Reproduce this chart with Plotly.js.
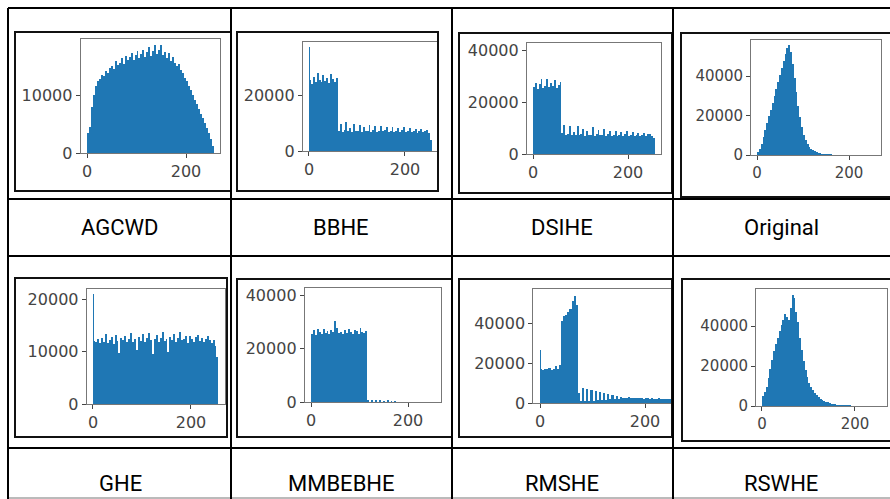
<!DOCTYPE html>
<html><head><meta charset="utf-8">
<script src="https://cdn.plot.ly/plotly-3.0.1.min.js"></script>
<style>html,body{margin:0;padding:0;background:#fff}#chart{width:890px;height:499px}</style>
</head><body><div id="chart"></div>
<script>
// ---------------- data ----------------
const methods = ['AGCWD','BBHE','DSIHE','Original','GHE','MMBEBHE','RMSHE','RSWHE'];
const binStarts = [0,4,8,12,16,20,24,28,32,36,40,44,48,52,56,60,64,68,72,76,80,84,88,92,96,100,104,108,112,116,120,124,128,132,136,140,144,148,152,156,160,164,168,172,176,180,184,188,192,196,200,204,208,212,216,220,224,228,232,236,240,244,248,252];
const agcwd = [3500,4500,8000,10000,11500,12500,12800,13500,13200,14200,13800,14600,15000,14500,15800,15200,15600,16400,15400,16800,16000,16500,17200,16100,16900,17600,16300,17000,17700,16600,17400,18200,16800,17600,18600,17000,17800,18700,16900,17500,16400,17300,15800,16500,15600,15000,15400,14300,13800,13000,12400,11600,10800,10000,9200,8400,7600,6800,6000,5100,4300,3400,2400,1200];
const bbhe = [25500,24000,26500,24800,27800,25200,24600,27000,25000,26200,24400,27500,25600,24800,26000,7200,9800,6900,7400,10400,7000,8200,6800,9600,7100,7300,9200,6900,8600,7200,7000,9400,6800,7600,8800,6900,7100,9000,7000,7400,8400,6800,7200,8700,6900,7300,8200,6800,7500,8600,6700,7100,8300,6900,7200,8000,6600,7000,7900,6800,7300,7600,6500,4000];
const dsihe = [25800,27500,25000,26800,28800,25400,26200,29000,25600,27200,26000,28400,25300,26700,27800,8200,11000,7400,7800,10600,7300,8600,7200,10800,7500,7600,9800,7100,8900,7400,7300,10200,7000,7800,9400,7200,7300,9600,7100,7600,8800,7000,7400,9000,7100,7500,8500,6900,7700,8700,7000,7300,8400,7100,7400,8200,6900,7200,7900,7000,7600,7800,6900,6200];
const original = [1500,3000,5500,9000,12500,16000,19500,23000,26500,30000,33500,37000,40500,44000,47500,51000,54000,55500,52000,46000,39000,32000,25000,19000,14000,10000,7500,5500,4200,3200,2500,2000,1600,1200,900,700,550,450,380,320,270,230,200,180,160,150,140,130,125,120,115,110,105,100,100,95,90,90,85,80,80,75,70,60];
const ghe = [12000,11800,12400,11600,12600,11900,13400,11700,12200,12800,11500,13200,12000,9800,12500,12100,13000,11800,12300,13500,11900,12400,10200,12700,12000,13300,11800,12500,13600,12100,9600,12400,13100,11900,12600,13700,12000,12300,10000,12800,12200,13400,11800,12600,13800,12100,12400,12900,11700,13000,12300,11900,12700,13200,12000,12500,11800,12300,12900,12100,11600,12200,11000,9000];
const mmbebhe = [25500,26800,25200,27400,26000,25600,27200,25800,26600,25300,27000,26200,30200,27600,25700,26000,25400,26900,25800,27300,26100,25600,27100,26400,25500,27500,26300,25900,26700,600,0,700,0,600,0,800,0,500,0,600,0,400,0,300,0,0,0,0,0,0,0,0,0,0,0,0,0,0,0,0,0,0,0,0];
const rmshe = [17000,16500,17200,16800,17400,16600,17000,18500,17200,19000,41000,43500,44000,45500,47000,51000,53500,49000,5000,1200,7500,1000,6800,1100,6500,1200,6000,1300,5500,1500,5000,1600,4500,1800,4000,2000,3500,2200,3000,2400,2600,2500,2800,2400,2600,2500,2300,2600,2400,2200,2500,2300,2100,2400,2200,2000,2300,2100,1900,2200,2000,1800,2000,1700];
const rswhe = [5000,7000,9500,14000,18500,23000,27500,31000,34000,37500,40500,43000,46000,44500,43000,49000,55500,54000,47000,42000,34000,28000,22500,18000,14500,11500,9500,8000,6600,5400,4400,3600,3000,2500,2100,1800,1500,1250,1050,900,750,650,560,480,420,370,320,280,240,210,180,160,140,120,100,90,80,70,60,50,45,40,35,30];
const spikeBin = [0];
const bbheSpike = [37000];
const gheSpike = [20900];
const rmsheSpike = [26500];
const xTickVals = [0, 200];
const yTicksAGCWD = [0, 10000];
const yTicksBBHE = [0, 20000];
const yTicksDSIHE = [0, 20000, 40000];
const yTicksOriginal = [0, 20000, 40000];
const yTicksGHE = [0, 10000, 20000];
const yTicksMMBEBHE = [0, 20000, 40000];
const yTicksRMSHE = [0, 20000, 40000];
const yTicksRSWHE = [0, 20000, 40000];

// ---------------- layout / style ----------------
const W = 890, H = 499, BLUE = '#1f77b4';
const series = [agcwd, bbhe, dsihe, original, ghe, mmbebhe, rmshe, rswhe];
const spikes = [null, bbheSpike, null, null, gheSpike, null, rmsheSpike, null];
const yTicks = [yTicksAGCWD, yTicksBBHE, yTicksDSIHE, yTicksOriginal, yTicksGHE, yTicksMMBEBHE, yTicksRMSHE, yTicksRSWHE];
// pixel geometry of each embedded histogram picture
const geo = [
  {frame:[15,32,231,191], x0:87,  x200:186, y0:153, tp:95,  tv:10000, top:39,  font:16},
  {frame:[237,32,438,191], x0:309, x200:405, y0:151, tp:95,  tv:20000, top:42,  font:16},
  {frame:[459,33,672,193], x0:533, x200:628, y0:154, tp:50,  tv:40000, top:43,  font:16},
  {frame:[681,33,893,197], x0:757, x200:849, y0:155, tp:76,  tv:40000, top:40,  font:15},
  {frame:[15,278,227,437], x0:93,  x200:191, y0:404, tp:299, tv:20000, top:289, font:16},
  {frame:[237,279,452,437], x0:311, x200:408, y0:402, tp:295, tv:40000, top:288, font:16},
  {frame:[459,279,672,437], x0:540, x200:645, y0:403, tp:323, tv:40000, top:289, font:16, clipR:671},
  {frame:[682,279,893,441], x0:762, x200:855, y0:406, tp:326, tv:40000, top:289, font:15}
];
const colCenters = [120, 341, 562, 781];
const labelY = [227, 483];

const traces = [];
const layout = {
  width: W, height: H, margin: {l:0, r:0, t:0, b:0},
  paper_bgcolor: '#fff', plot_bgcolor: 'rgba(0,0,0,0)',
  showlegend: false, barmode: 'overlay', bargap: 0,
  shapes: [], annotations: []
};

geo.forEach((g, i) => {
  const n = i + 1, sfx = n === 1 ? '' : String(n);
  const k = (g.x200 - g.x0) / 200;
  const left = g.x0 - 12.8 * k;
  let right = g.x0 + 268.8 * k;
  if (g.clipR) right = Math.min(right, g.clipR);
  const py = (g.y0 - g.tp) / g.tv;
  const ymax = (g.y0 - g.top) / py;
  traces.push({type:'bar', x:binStarts, y:series[i], width:4, offset:0,
    marker:{color:BLUE, line:{width:0}}, xaxis:'x'+sfx, yaxis:'y'+sfx, hoverinfo:'skip', cliponaxis:true});
  if (spikes[i]) traces.push({type:'bar', x:spikeBin, y:spikes[i], width:2, offset:0,
    marker:{color:BLUE, line:{width:0}}, xaxis:'x'+sfx, yaxis:'y'+sfx, hoverinfo:'skip'});
  const common = {showline:true, linecolor:'#777', linewidth:1, mirror:true, ticks:'outside',
    ticklen:4, tickwidth:1, tickcolor:'#444', showgrid:false, zeroline:false, fixedrange:true,
    tickfont:{family:'DejaVu Sans', size:g.font, color:'#444'}};
  layout['xaxis'+sfx] = Object.assign({}, common, {
    domain:[left/W, right/W], range:[(left-g.x0)/k, (right-g.x0)/k], anchor:'y'+sfx,
    tickmode:'array', tickvals:xTickVals, ticktext:xTickVals.map(String)});
  layout['yaxis'+sfx] = Object.assign({}, common, {
    domain:[1-g.y0/H, 1-g.top/H], range:[0, ymax], anchor:'x'+sfx,
    tickmode:'array', tickvals:yTicks[i], ticktext:yTicks[i].map(String)});
  const f = g.frame;
  layout.shapes.push({type:'rect', xref:'paper', yref:'paper', x0:f[0]/W, x1:f[2]/W, y0:1-f[3]/H, y1:1-f[1]/H,
    line:{color:'#111', width:2}, fillcolor:'rgba(0,0,0,0)', layer:'above'});
});

// table grid lines
const hLines = [8, 199, 256, 448];
const vLines = [8, 231, 452, 673];
hLines.forEach(y => layout.shapes.push({type:'line', xref:'paper', yref:'paper', x0:8/W, x1:1, y0:1-y/H, y1:1-y/H, line:{color:'#000', width:2}}));
layout.shapes.push({type:'line', xref:'paper', yref:'paper', x0:8/W, x1:1, y0:1-498/H, y1:1-498/H, line:{color:'#777', width:1}});
vLines.forEach(x => layout.shapes.push({type:'line', xref:'paper', yref:'paper', x0:x/W, x1:x/W, y0:0, y1:1-8/H, line:{color:'#000', width:2}}));

methods.forEach((m, i) => {
  layout.annotations.push({text:m, xref:'paper', yref:'paper', x:colCenters[i%4]/W, y:1-labelY[Math.floor(i/4)]/H,
    xanchor:'center', yanchor:'middle', showarrow:false, font:{family:'Roboto', size:22, color:'#000'}});
});

Plotly.newPlot('chart', traces, layout, {staticPlot:true, displayModeBar:false});
</script>
</body></html>
